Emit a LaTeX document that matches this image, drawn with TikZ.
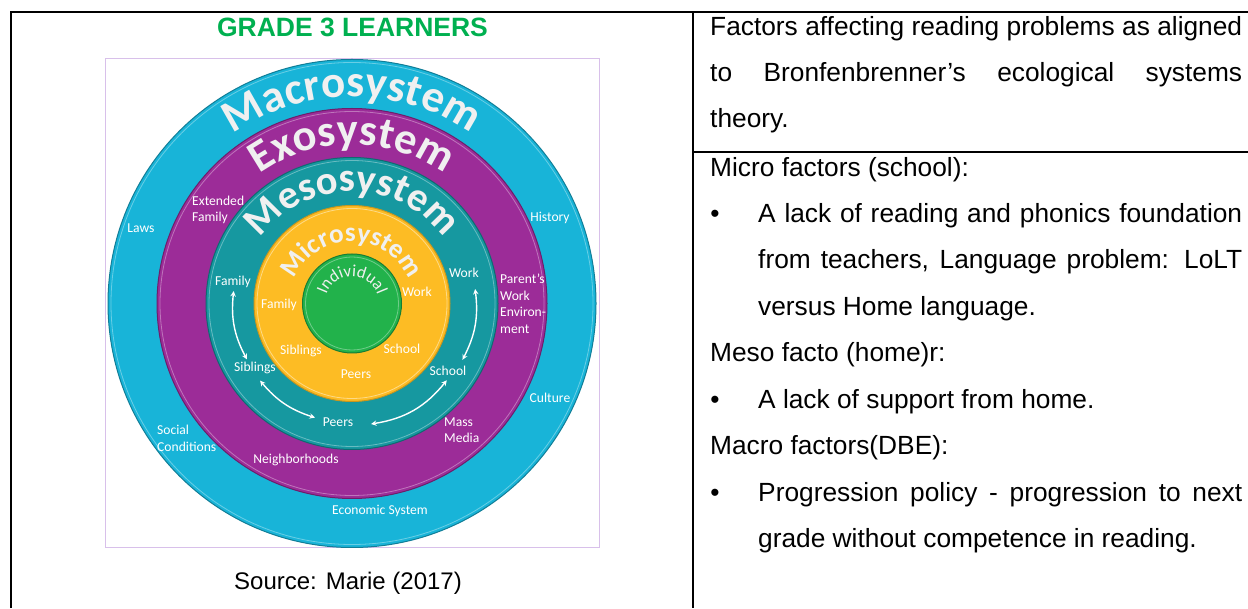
\documentclass[tikz,border=0pt]{standalone}
\usepackage{fontspec}
\setmainfont{Liberation Sans}
\newfontfamily\calib{Carlito}
\usetikzlibrary{arrows,decorations.text}

\definecolor{macroblue}{RGB}{24,180,216}
\definecolor{exopurple}{RGB}{156,44,152}
\definecolor{mesoteal}{RGB}{22,152,160}
\definecolor{microyellow}{RGB}{253,188,36}
\definecolor{indivgreen}{RGB}{34,178,75}
\definecolor{wordgreen}{RGB}{0,176,80}
\definecolor{framelilac}{RGB}{216,192,234}

% fonts for the curved ring names
\newcommand\macrotxt{\calib\bfseries\fontsize{45}{45}\selectfont\color{white!94!black}}
\newcommand\exotxt{\calib\bfseries\fontsize{44.5}{44.5}\selectfont\color{white!94!black}}
\newcommand\mesotxt{\calib\bfseries\fontsize{40.5}{40.5}\selectfont\color{white!94!black}}
\newcommand\microtxt{\calib\bfseries\fontsize{27}{27}\selectfont\color{white!94!black}}
\newcommand\indivtxt{\calib\fontsize{17}{17}\selectfont\color{white!94!black}}

\begin{document}
\begin{tikzpicture}
    [x=1pt,y=1pt,>=stealth,
    ring/.style={circle,inner sep=0,line width=1pt},
    lbl/.style={text=white,font=\calib\fontsize{13.6}{16.5}\selectfont,inner sep=0,align=center},
    lbl left/.style={lbl,anchor=west,align=left},
    row/.style={anchor=base west,inner sep=0,font=\fontsize{26.3}{30}\selectfont},
    dot/.style={anchor=base,inner sep=0,font=\fontsize{26.3}{30}\selectfont},
    tbl/.style={line width=1.6pt},
    loop arrow/.style={<->,white,line width=1.4pt}]
    \useasboundingbox (0,0) rectangle (1248,608);
    % table rules
    \draw[tbl] (11,0) -- (11,596) -- (1248,596);
    \draw[tbl] (693,596) -- (693,0);
    \draw[tbl] (693,456) -- (1248,456);
    % left cell
    \node[anchor=base,inner sep=0,font=\bfseries\fontsize{26.5}{30}\selectfont,text=wordgreen] (title) at (352.5,571) {GRADE 3 LEARNERS};
    \draw[framelilac,line width=.8pt] (105,61) rectangle (599,550);
    \coordinate (ctr) at (352,304.5);
    \node[ring,minimum size=488pt,fill=macroblue,draw=macroblue!70!black] (macro) at (ctr) {};
    \node[ring,minimum size=390pt,fill=exopurple,draw=exopurple!70!black] (exo) at (ctr) {};
    \node[ring,minimum size=292pt,fill=mesoteal,draw=mesoteal!70!black] (meso) at (ctr) {};
    \node[ring,minimum size=196pt,fill=microyellow,draw=microyellow!80!black] (micro) at (ctr) {};
    \node[ring,minimum size=99pt,fill=indivgreen,draw=indivgreen!70!black] (indiv) at (ctr) {};
    % light inner edges
    \draw[white,opacity=.35,line width=.8pt] (ctr) circle[radius=241];
    \draw[white,opacity=.35,line width=.8pt] (ctr) circle[radius=192];
    \draw[white,opacity=.35,line width=.8pt] (ctr) circle[radius=143];
    \draw[white,opacity=.45,line width=.8pt] (ctr) circle[radius=95];
    \draw[white,opacity=.35,line width=.8pt] (ctr) circle[radius=46.5];
    % ring names along arcs
    \path[decorate,decoration={text along path,text align=center,text={|\macrotxt|Macrosystem}}]
    ([shift={(175:207)}]ctr) arc[start angle=175,end angle=5,radius=207];
    \path[decorate,decoration={text along path,text align=center,text={|\exotxt|Exosystem}}]
    ([shift={(175:159)}]ctr) arc[start angle=175,end angle=5,radius=159];
    \path[decorate,decoration={text along path,text align=center,text={|\mesotxt|Mesosystem}}]
    ([shift={(175:112)}]ctr) arc[start angle=175,end angle=5,radius=112];
    \path[decorate,decoration={text along path,text align=center,text={|\microtxt|Microsystem}}]
    ([shift={(175:62)}]ctr) arc[start angle=175,end angle=5,radius=62];
    \path[decorate,decoration={text along path,text align=center,text={|\indivtxt|Individual}}]
    ([shift={(175:27)}]ctr) arc[start angle=175,end angle=5,radius=27];
    % macrosystem
    \node[lbl] (laws) at (141,380) {Laws};
    \node[lbl] (hist) at (550,390) {History};
    \node[lbl] (cult) at (550,210) {Culture};
    \node[lbl left] (social) at (157,169.5) {Social\\Conditions};
    \node[lbl] (econ) at (380,97) {Economic System};
    % exosystem
    \node[lbl left] (extfam) at (192,398) {Extended\\Family};
    \node[lbl left] (parwork) at (500,304) {Parent’s\\Work\\Environ-\\ment};
    \node[lbl left] (media) at (444,178) {Mass\\Media};
    \node[lbl] (neigh) at (296,148) {Neighborhoods};
    % mesosystem
    \node[lbl] (famM) at (233,326) {Family};
    \node[lbl] (workM) at (464,335) {Work};
    \node[lbl] (sibM) at (255,240) {Siblings};
    \node[lbl] (schM) at (448,237) {School};
    \node[lbl] (peerM) at (338,186) {Peers};
    % microsystem
    \node[lbl] (famI) at (279,303) {Family};
    \node[lbl] (workI) at (417,316) {Work};
    \node[lbl] (sibI) at (301,257) {Siblings};
    \node[lbl] (schI) at (402,259) {School};
    \node[lbl] (peerI) at (356,234) {Peers};
    % arrow ends in the mesosystem
    \coordinate (famEnd) at ([shift={(174:119)}]ctr);
    \coordinate (sibTop) at ([shift={(208:119)}]ctr);
    \coordinate (sibBot) at ([shift={(220:120)}]ctr);
    \coordinate (peerL) at ([shift={(252:120)}]ctr);
    \coordinate (peerR) at ([shift={(279:122)}]ctr);
    \coordinate (schBot) at ([shift={(321:122)}]ctr);
    \coordinate (schTop) at ([shift={(333:124)}]ctr);
    \coordinate (workEnd) at ([shift={(6.7:124)}]ctr);
    \draw[loop arrow] (famEnd) to[bend right=17] (sibTop);
    \draw[loop arrow] (sibBot) to[bend right=16] (peerL);
    \draw[loop arrow] (peerR) to[bend right=21] (schBot);
    \draw[loop arrow] (schTop) to[bend right=17] (workEnd);
    \node[anchor=base,inner sep=0,font=\fontsize{24}{28}\selectfont] (src) at (348,19) {Source: Marie (2017)};
    % right cell
    \node[row] (l1) at (710,572) {\makebox[532pt][s]{Factors affecting reading problems as aligned}};
    \node[row] (l2) at (710,526) {\makebox[532pt][s]{to Bronfenbrenner’s ecological systems}};
    \node[row] (l3) at (710,480) {theory.};
    \node[row] (l4) at (710,431) {Micro factors (school):};
    \node[dot] (b1) at (715,385) {\textbullet};
    \node[row] (l5) at (758,385) {\makebox[484pt][s]{A lack of reading and phonics foundation}};
    \node[row] (l6) at (758,339) {\makebox[484pt][s]{from teachers, Language problem: LoLT}};
    \node[row] (l7) at (758,292) {versus Home language.};
    \node[row] (l8) at (710,246) {Meso facto (home)r:};
    \node[dot] (b2) at (715,199) {\textbullet};
    \node[row] (l9) at (758,199) {A lack of support from home.};
    \node[row] (l10) at (710,153) {Macro factors(DBE):};
    \node[dot] (b3) at (715,106) {\textbullet};
    \node[row] (l11) at (758,106) {\makebox[484pt][s]{Progression policy - progression to next}};
    \node[row] (l12) at (758,60) {grade without competence in reading.};
\end{tikzpicture}
\end{document}
